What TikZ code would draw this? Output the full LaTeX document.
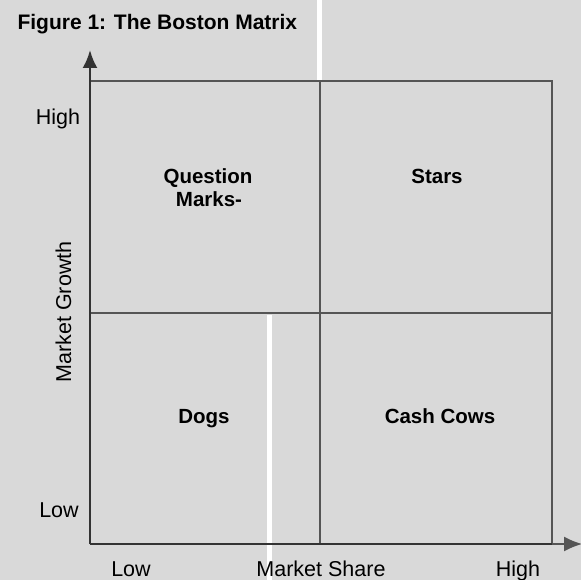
\documentclass[tikz,border=0pt]{standalone}
\usepackage{fontspec}
\setmainfont{Liberation Sans}
\usetikzlibrary{arrows.meta}
\usepackage{xcolor}
\definecolor{bggray}{HTML}{D9D9D9}
\definecolor{linegray}{HTML}{555555}
\tikzset{
    axis/.style={
        line width=2.6pt,
        draw=black!80
    },
    gridline/.style={
        line width=1.8pt,
        draw=linegray
    },
    axislabel/.style={
        anchor=base,
        font=\fontsize{21.5}{24}\selectfont
    },
    quadlabel/.style={
        anchor=base,
        font=\bfseries\fontsize{20.5}{23}\selectfont
    }
}

\begin{document}
\begin{tikzpicture}[
        x=1pt, y=-1pt,
        >={Latex[length=18pt,width=15pt]}
      ]
      \fill[bggray] (0,0) rectangle (581,580);
      \useasboundingbox (0,0) rectangle (581,580);
      % white gaps of the scan
      \fill[white] (317,0) rectangle (322,80);
      \fill[white] (267,315) rectangle (272,580);

      \coordinate (origin) at (90,544);
      \coordinate (ytip)   at (90,50);
      \coordinate (xtip)   at (582,544);
      \coordinate (tl)     at (90,81);
      \coordinate (tr)     at (552,81);
      \coordinate (br)     at (552,544);
      \coordinate (mt)     at (320,81);
      \coordinate (mb)     at (320,544);
      \coordinate (ml)     at (90,313);
      \coordinate (mr)     at (552,313);

      \draw[gridline] (tl) -- (tr) -- (br);
      \draw[gridline] (mt) -- (mb);
      \draw[gridline] (ml) -- (mr);
      \draw[axis, ->] (origin) -- (ytip);
      \draw[axis] (origin) -- (br);
      \draw[gridline, line width=1.4pt, ->] (br) -- (xtip);

      \node[anchor=base west, font=\bfseries\fontsize{21}{24}\selectfont] (title) at (14,30) {Figure 1: The Boston Matrix};

      \node[axislabel] (yhigh)  at (58,125) {High};
      \node[axislabel] (ylow)   at (59,517) {Low};
      \node[axislabel] (xlow)   at (131,576) {Low};
      \node[axislabel] (xname)  at (321,576) {Market Share};
      \node[axislabel] (xhigh)  at (518,576) {High};
      \node[axislabel, rotate=90] (yname) at (71,312) {Market Growth};

      \node[quadlabel] (qm1)   at (208,184) {Question};
      \node[quadlabel] (qm2)   at (209,207) {Marks-};
      \node[quadlabel] (stars) at (437,184) {Stars};
      \node[quadlabel] (dogs)  at (204,423) {Dogs};
      \node[quadlabel] (cows)  at (440,423) {Cash Cows};
\end{tikzpicture}
\end{document}
